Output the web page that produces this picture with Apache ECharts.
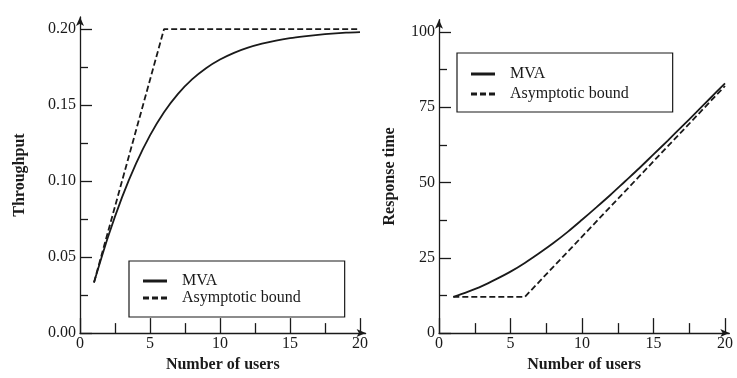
<!DOCTYPE html>
<html>
<head>
<meta charset="utf-8">
<script src="https://cdn.jsdelivr.net/npm/echarts@6/dist/echarts.min.js"></script>
<style>
  html, body { margin: 0; padding: 0; background: #fff; }
  #chart { width: 737px; height: 378px; }
</style>
</head>
<body>
<div id="chart"></div>
<script>
// number of users on the x axis
var users = [1, 2, 3, 4, 5, 6, 7, 8, 9, 10, 11, 12, 13, 14, 15, 16, 17, 18, 19, 20];
// MVA curves
var mvaThroughput = [0.0333, 0.0632, 0.0893, 0.1115, 0.1301, 0.1453, 0.1574, 0.1669, 0.1743, 0.1800,
                     0.1844, 0.1878, 0.1904, 0.1925, 0.1941, 0.1953, 0.1963, 0.1971, 0.1977, 0.1981];
var mvaResponse = [12.0, 13.7, 15.6, 17.9, 20.4, 23.3, 26.5, 29.9, 33.6, 37.6,
                   41.7, 45.9, 50.3, 54.7, 59.3, 63.9, 68.6, 73.3, 78.1, 82.9];
// asymptotic bounds (corner points)
var boundUsers = [1, 6, 20];
var boundThroughput = [0.0333, 0.2, 0.2];
var boundResponse = [12, 12, 82];
// tick values
var xMajor = [0, 5, 10, 15, 20];
var xMinor = [2.5, 7.5, 12.5, 17.5];
var tpMajor = [0, 0.05, 0.10, 0.15, 0.20];
var tpMinor = [0.025, 0.075, 0.125, 0.175];
var rtMajor = [0, 25, 50, 75, 100];
var rtMinor = [12.5, 37.5, 62.5, 87.5];

var serif = 'Liberation Serif';
var ink = '#1a1a1a';

// legend samples: a solid bar and three dashes
var solidIcon = 'path://M0,0h24v3h-24z';
var dashIcon = 'path://M0,0h6v3h-6zM9,0h6v3h-6zM18,0h6v3h-6z';

function pairs(xs, ys) {
  return xs.map(function (x, i) { return [x, ys[i]]; });
}

function xAxes(grid, max) {
  return [{
    type: 'value', gridIndex: grid, min: 0, max: max, position: 'bottom',
    name: 'Number of users', nameLocation: 'middle', nameGap: 15,
    nameTextStyle: { fontFamily: serif, fontWeight: 'bold', fontSize: 16, color: ink },
    axisLine: { lineStyle: { color: ink, width: 1.3 }, symbol: ['none', 'arrow'], symbolSize: [6, 9] },
    axisTick: { inside: true, length: 15, customValues: xMajor, lineStyle: { color: ink, width: 1.3 } },
    axisLabel: { customValues: xMajor, margin: 3, fontFamily: serif, fontSize: 16, color: ink },
    splitLine: { show: false }
  }, {
    type: 'value', gridIndex: grid, min: 0, max: max, position: 'bottom',
    axisLine: { show: false },
    axisTick: { inside: true, length: 10, customValues: xMinor, lineStyle: { color: ink, width: 1.3 } },
    axisLabel: { show: false },
    splitLine: { show: false }
  }];
}

function yAxes(grid, max, major, minor, name, gap, fmt) {
  return [{
    type: 'value', gridIndex: grid, min: 0, max: max, position: 'left',
    name: name, nameLocation: 'middle', nameGap: gap, nameRotate: 90,
    nameTextStyle: { fontFamily: serif, fontWeight: 'bold', fontSize: 16, color: ink },
    axisLine: { lineStyle: { color: ink, width: 1.3 }, symbol: ['none', 'arrow'], symbolSize: [6, 9] },
    axisTick: { inside: true, length: 12, customValues: major, lineStyle: { color: ink, width: 1.3 } },
    axisLabel: { customValues: major, margin: 4, fontFamily: serif, fontSize: 16, color: ink, formatter: fmt },
    splitLine: { show: false }
  }, {
    type: 'value', gridIndex: grid, min: 0, max: max, position: 'left',
    axisLine: { show: false },
    axisTick: { inside: true, length: 8, customValues: minor, lineStyle: { color: ink, width: 1.3 } },
    axisLabel: { show: false },
    splitLine: { show: false }
  }];
}

function legendAt(left, top, gap, pad) {
  return {
    left: left, top: top, orient: 'vertical',
    data: [
      { name: 'MVA', icon: solidIcon },
      { name: 'Asymptotic bound', icon: dashIcon }
    ],
    itemWidth: 24, itemHeight: 3, itemGap: gap,
    padding: pad,
    borderColor: ink, borderWidth: 1.2,
    itemStyle: { color: ink, borderWidth: 0 },
    textStyle: { fontFamily: serif, fontSize: 16, color: ink, padding: [0, 0, 0, 10] },
    selectedMode: false
  };
}

var solid = { color: ink, width: 1.8, type: 'solid' };
var dashed = { color: ink, width: 1.8, type: [6, 3] };

var chart = echarts.init(document.getElementById('chart'));
chart.setOption({
  animation: false,
  backgroundColor: '#fff',
  grid: [
    { left: 80, top: 17, width: 285.6, height: 321 },
    { left: 439, top: 19.7, width: 290.3, height: 319.3 }
  ],
  xAxis: xAxes(0, 20.4).concat(xAxes(1, 20.3)),
  yAxis: yAxes(0, 0.208, tpMajor, tpMinor, 'Throughput', 52, function (v) { return v.toFixed(2); })
    .concat(yAxes(1, 104, rtMajor, rtMinor, 'Response time', 41, function (v) { return String(v); })),
  legend: [
    legendAt(129, 261, 1, [12, 44, 11, 14]),
    legendAt(457, 53, 4, [13, 44, 10, 14])
  ],
  series: [
    { name: 'MVA', type: 'line', xAxisIndex: 0, yAxisIndex: 0, symbol: 'none', smooth: 0.3,
      lineStyle: solid, itemStyle: { color: ink }, data: pairs(users, mvaThroughput) },
    { name: 'Asymptotic bound', type: 'line', xAxisIndex: 0, yAxisIndex: 0, symbol: 'none',
      lineStyle: dashed, itemStyle: { color: ink }, data: pairs(boundUsers, boundThroughput) },
    { name: 'MVA', type: 'line', xAxisIndex: 2, yAxisIndex: 2, symbol: 'none', smooth: 0.3,
      lineStyle: solid, itemStyle: { color: ink }, data: pairs(users, mvaResponse) },
    { name: 'Asymptotic bound', type: 'line', xAxisIndex: 2, yAxisIndex: 2, symbol: 'none',
      lineStyle: dashed, itemStyle: { color: ink }, data: pairs(boundUsers, boundResponse) }
  ]
});
</script>
</body>
</html>
